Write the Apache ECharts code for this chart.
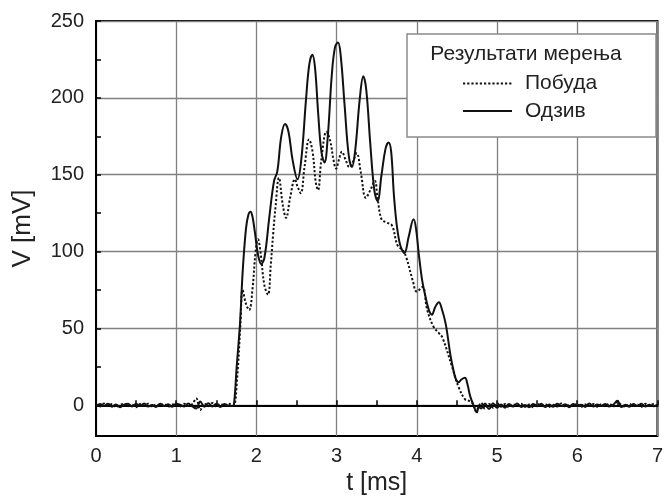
<!DOCTYPE html>
<html><head><meta charset="utf-8">
<script src="https://cdn.jsdelivr.net/npm/echarts@6/dist/echarts.min.js"></script>
<style>html,body{margin:0;padding:0;background:#fff}#c{width:666px;height:501px}</style>
</head><body><div id="c"></div>
<script>
const FONT = '"Liberation Sans", Arial, sans-serif';
const seriesNames = ['Побуда', 'Одзив'];
const legendTitle = 'Результати мерења';
const yTicks = [0, 50, 100, 150, 200, 250];
const yMinorTicks = [25, 75, 125, 175, 225];

// baseline time samples (before and after the pulse)
const tPre = [0,0.05,0.1,0.15,0.2,0.25,0.3,0.35,0.4,0.45,0.5,0.55,0.6,0.65,0.7,0.75,0.8,0.85,0.9,0.95,1.0,1.05,1.1,1.15,1.2,1.25,1.3,1.35,1.4,1.45,1.5,1.55,1.6,1.65,1.7];
const tPost = [4.8,4.85,4.9,4.95,5.0,5.05,5.1,5.15,5.2,5.25,5.3,5.35,5.4,5.45,5.5,5.55,5.6,5.65,5.7,5.75,5.8,5.85,5.9,5.95,6.0,6.05,6.1,6.15,6.2,6.25,6.3,6.35,6.4,6.45,6.5,6.55,6.6,6.65,6.7,6.75,6.8,6.85,6.9,6.95,7.0];

// Побуда (excitation, dotted)
const vExcPre = [0.5,-0.8,1.2,-0.4,0.9,-1.1,0.3,1.0,-0.6,0.4,-1.2,0.8,-0.2,1.1,-0.9,0.5,-0.3,0.9,-1.0,0.6,0.2,-0.7,1.0,-0.5,0.8,4.5,-3.0,1.2,-0.6,1.5,-0.8,0.9,-0.4,1.1,0.3];
const tExcPulse = [1.72,1.76,1.80,1.828,1.87,1.91,1.95,1.99,2.02,2.05,2.10,2.144,2.18,2.208,2.24,2.28,2.33,2.37,2.42,2.48,2.515,2.553,2.60,2.657,2.70,2.74,2.768,2.81,2.874,2.92,2.96,2.993,3.03,3.066,3.11,3.16,3.20,3.25,3.30,3.365,3.42,3.476,3.51,3.56,3.62,3.69,3.76,3.825,3.87,3.95,4.00,4.07,4.13,4.21,4.275,4.32,4.44,4.52,4.60,4.645,4.70,4.74,4.77];
const vExcPulse = [0,18,52,75,66,62,75,100,108,100,78,72,92,111,130,148,130,122,135,147,142,138,155,173,165,145,140,160,178,172,160,154,160,165,160,155,158,164,152,135,140,146,135,121,119,117,104,101,96,81,74,77,62,51,47,44,25,12,4,3,1,-4,-1];
const vExcPost = [1.6,-2.2,0.9,-1.5,1.4,-0.9,0.9,-1.3,0.7,-0.4,1.1,-0.9,0.6,-1.2,1.0,-0.3,0.8,-1.0,0.4,-0.7,1.2,-0.8,0.5,-0.4,1.0,-1.1,0.6,-0.5,0.9,-0.9,0.7,-0.6,1.1,-0.8,2.2,0.3,-1.0,0.9,-0.4,0.6,-0.9,1.0,-0.5,0.8,-0.3];

// Одзив (response, solid)
const vRespPre = [-0.6,0.9,-0.3,1.1,-0.9,0.6,-1.2,0.4,1.0,-0.7,0.8,-0.4,1.2,-0.8,0.3,-1.0,1.1,-0.5,0.7,-0.9,1.0,0.4,-0.8,1.2,-0.6,-2.0,2.5,-0.9,1.4,-0.7,1.0,-1.1,0.8,-0.3,-0.5];
const tRespPulse = [1.72,1.754,1.795,1.83,1.87,1.90,1.926,1.95,1.98,2.02,2.06,2.10,2.16,2.22,2.26,2.31,2.357,2.40,2.45,2.513,2.56,2.62,2.66,2.697,2.73,2.77,2.81,2.849,2.89,2.94,2.98,3.017,3.05,3.10,3.15,3.19,3.23,3.29,3.333,3.37,3.42,3.47,3.51,3.56,3.61,3.648,3.68,3.72,3.78,3.845,3.90,3.96,3.99,4.03,4.09,4.19,4.23,4.275,4.31,4.36,4.44,4.52,4.56,4.60,4.63,4.665,4.70,4.75,4.77];
const vRespPulse = [0.5,25,53,88,115,124,126,123,113,98,92,96,122,146,152,175,183,178,160,147,160,200,222,228,220,190,165,158,175,215,233,236,228,195,163,155,165,200,214,205,170,140,133,150,167,171,165,133,107,99,110,121,115,96,75,59,64,67,63,53,27,15,17,18,14,6,1,-4.5,-1];
const vRespPost = [-2.0,1.2,-2.4,1.3,-1.6,0.6,-1.5,0.9,-0.8,1.2,-1.0,0.3,-1.3,0.8,-0.6,1.0,-1.1,0.5,-0.9,1.1,-0.4,0.7,-1.2,0.9,-0.5,0.4,-1.0,1.2,-0.7,0.6,-0.3,0.9,-0.8,0.5,3.0,-1.1,0.4,-0.9,0.8,-0.5,1.0,-0.7,0.4,-0.6,0.5];

function pairs(ts, vs) { return ts.map((t, i) => [t, vs[i]]); }
const excData = pairs(tPre.concat(tExcPulse, tPost), vExcPre.concat(vExcPulse, vExcPost));
const respData = pairs(tPre.concat(tRespPulse, tPost), vRespPre.concat(vRespPulse, vRespPost));

const chart = echarts.init(document.getElementById('c'), null, {renderer: 'canvas'});
chart.setOption({
  animation: false,
  backgroundColor: '#fff',
  grid: {left: 96, right: 1.3, top: 21, bottom: 60.4, show: true, borderColor: '#000', borderWidth: 2, backgroundColor: 'transparent'},
  xAxis: {
    type: 'value', min: 0, max: 7, interval: 1,
    axisLine: {show: true, lineStyle: {color: '#000', width: 2}},
    axisTick: {show: true, inside: true, length: 5, lineStyle: {color: '#000', width: 1.5}},
    minorTick: {show: true, splitNumber: 2, length: 5, lineStyle: {color: '#000', width: 1.5}},
    splitLine: {show: true, lineStyle: {color: '#808080', width: 1.3}},
    axisLabel: {fontSize: 20, color: '#222', fontFamily: FONT, margin: 10},
    name: 't [ms]', nameLocation: 'middle', nameGap: 32,
    nameTextStyle: {fontSize: 25, color: '#222', fontFamily: FONT}
  },
  yAxis: [{
    type: 'value', min: -20, max: 250, position: 'left',
    axisLine: {show: true, lineStyle: {color: '#000', width: 2}},
    axisTick: {show: true, inside: true, length: 5, customValues: yTicks, lineStyle: {color: '#000', width: 1.5}},
    axisLabel: {customValues: yTicks, fontSize: 20, color: '#222', fontFamily: FONT, margin: 12},
    splitLine: {show: true, lineStyle: {color: '#808080', width: 1.3}},
    name: 'V [mV]', nameLocation: 'middle', nameGap: 60,
    nameTextStyle: {fontSize: 26, color: '#222', fontFamily: FONT}
  }, {
    type: 'value', min: -20, max: 250, position: 'left',
    axisLine: {show: false},
    axisTick: {show: true, inside: true, length: 5, customValues: yMinorTicks, lineStyle: {color: '#000', width: 1.5}},
    axisLabel: {show: false},
    splitLine: {show: false}
  }],
  graphic: [
    {type: 'rect', shape: {x: 407, y: 34, width: 249, height: 103}, style: {fill: '#fff', stroke: '#8a8a8a', lineWidth: 1.5}, z: 10},
    {type: 'text', x: 526, y: 54, style: {text: legendTitle, fontSize: 21, fontFamily: FONT, fill: '#222', align: 'center', verticalAlign: 'middle'}, z: 11}
  ],
  legend: {
    orient: 'vertical', left: 462, top: 73, padding: 0, itemWidth: 49, itemHeight: 14, itemGap: 6.5,
    data: seriesNames, z: 12,
    itemStyle: {opacity: 0},
    textStyle: {fontSize: 21, fontFamily: FONT, color: '#222', padding: [0, 0, 0, 8]}
  },
  series: [{
    name: seriesNames[0], type: 'line', data: excData, symbol: 'none', smooth: 0.4, yAxisIndex: 0,
    lineStyle: {color: '#111', width: 2, type: [2.2, 2]}, itemStyle: {color: '#111'}, z: 3
  }, {
    name: seriesNames[1], type: 'line', data: respData, symbol: 'none', smooth: 0.4, yAxisIndex: 0,
    lineStyle: {color: '#111', width: 2}, itemStyle: {color: '#111'}, z: 4
  }]
});
</script></body></html>
